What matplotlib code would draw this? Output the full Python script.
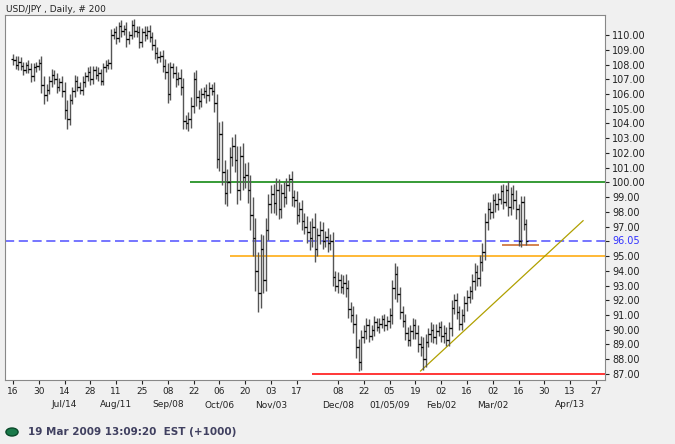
import matplotlib
matplotlib.use("Agg")
import matplotlib.pyplot as plt
from matplotlib.patches import Circle

closes = [108.3,108.0,108.2,107.9,107.6,108.0,107.7,107.2,107.8,107.9,
          108.1,106.6,105.9,106.3,106.9,107.3,107.0,106.5,106.8,106.2,
          104.9,104.3,105.6,106.2,106.9,106.5,106.3,106.8,107.2,107.5,
          107.0,107.6,107.3,107.4,106.9,107.8,108.0,108.1,110.0,110.2,
          109.8,110.6,110.3,110.4,109.7,110.0,110.7,110.3,110.2,109.5,
          110.2,110.0,110.3,109.9,109.3,108.8,108.5,108.6,107.9,107.5,
          106.0,107.8,107.4,107.0,107.1,106.5,104.2,104.0,104.3,105.2,
          107.0,105.8,105.5,106.0,106.2,105.9,106.4,106.2,105.4,101.6,
          103.3,100.7,99.3,100.0,101.7,102.5,101.5,99.5,101.8,100.4,
          100.5,99.5,97.8,96.2,94.0,92.5,95.5,93.4,96.8,98.5,
          99.2,98.6,99.5,98.2,99.3,99.0,99.8,100.2,99.0,98.8,
          97.8,98.2,97.4,97.0,96.6,96.2,97.0,95.5,96.4,96.8,
          96.0,96.3,95.9,96.0,93.6,93.0,93.4,92.9,93.2,92.8,
          91.4,91.0,90.4,88.8,87.8,89.5,89.9,90.3,89.6,90.0,
          90.5,90.2,90.4,90.7,90.3,90.6,91.0,92.8,93.8,92.4,
          91.2,90.6,89.8,89.3,89.9,90.3,89.8,89.0,88.8,88.0,
          89.2,89.7,90.0,89.5,89.9,90.2,89.6,89.8,89.3,90.1,
          91.5,92.0,91.2,90.4,91.0,91.8,92.2,92.6,93.3,93.9,
          93.5,94.6,95.3,97.3,98.2,98.0,98.8,98.5,98.9,99.4,
          98.7,99.5,98.3,99.2,98.8,98.2,96.0,98.7,97.2,96.05]
wick = [0.3,0.3,0.4,0.3,0.3,0.2,0.3,0.4,0.3,0.3,
        0.3,0.5,0.6,0.4,0.3,0.4,0.3,0.4,0.3,0.4,
        0.6,0.7,0.4,0.3,0.4,0.3,0.3,0.4,0.3,0.3,
        0.4,0.3,0.3,0.4,0.3,0.3,0.3,0.3,0.4,0.3,
        0.4,0.3,0.4,0.3,0.5,0.3,0.3,0.4,0.3,0.4,
        0.3,0.4,0.3,0.4,0.3,0.4,0.4,0.3,0.4,0.5,
        0.6,0.4,0.3,0.5,0.4,0.6,0.6,0.4,0.5,0.6,
        0.5,0.6,0.5,0.4,0.3,0.5,0.4,0.3,0.6,0.6,
        0.8,0.9,0.8,0.9,0.7,0.6,0.8,1.0,0.7,0.9,
        0.8,0.9,1.0,1.2,1.4,1.3,1.0,0.9,0.8,0.7,
        0.6,0.7,0.8,0.7,0.6,0.7,0.5,0.4,0.6,0.5,
        0.6,0.5,0.6,0.5,0.7,0.8,0.6,0.9,0.5,0.6,
        0.5,0.4,0.6,0.5,0.6,0.4,0.5,0.4,0.5,0.6,
        0.6,0.5,0.6,0.7,0.6,0.5,0.4,0.5,0.4,0.3,
        0.4,0.3,0.4,0.3,0.4,0.3,0.5,0.6,0.7,0.5,
        0.5,0.4,0.5,0.4,0.4,0.5,0.4,0.5,0.6,0.7,
        0.5,0.4,0.5,0.4,0.5,0.3,0.4,0.5,0.4,0.4,
        0.5,0.4,0.5,0.4,0.4,0.5,0.5,0.4,0.5,0.6,
        0.5,0.5,0.6,0.6,0.5,0.5,0.4,0.5,0.4,0.4,
        0.5,0.3,0.6,0.5,0.6,0.7,0.3,0.4,0.4,0.3]
first_open = 108.4

tick_pos = [0,10,20,30,40,50,60,70,80,90,100,110,126,136,146,156,166,176,186,196,206,216,226]
tick_top = ["16","30","14","28","11","25","08","22","06","20","03","17","08","22","05","19","02","16","02","16","30","13","27"]
tick_bottom = {20:"Jul/14",40:"Aug/11",60:"Sep/08",80:"Oct/06",100:"Nov/03",126:"Dec/08",
               146:"01/05/09",166:"Feb/02",186:"Mar/02",216:"Apr/13"}

resistance = 100.0
last_close = 96.05
support = 95.0
low_line = 87.0
brown_level = 95.75
trend = ([158, 221], [87.2, 97.4])

fig = plt.figure(figsize=(6.75, 4.44), dpi=100)
fig.patch.set_facecolor("#f0f0f0")
ax = fig.add_axes([5/675, 64/444, 600/675, 365/444])
ax.set_facecolor("white")

opens = [first_open] + closes[:-1]
for i, (o, c, w) in enumerate(zip(opens, closes, wick)):
    hi = max(o, c) + w
    lo = min(o, c) - w
    ax.vlines(i, lo, hi, color="#555555", lw=1.0, zorder=3)
    ax.hlines(o, i - 0.7, i, color="black", lw=0.9, zorder=3)
    ax.hlines(c, i, i + 0.7, color="black", lw=0.9, zorder=3)

xmin, xmax = -3.1, 229.5
ax.hlines(resistance, 68.5, xmax, color="green", lw=1.1, zorder=2)
ax.axhline(last_close, color="#5050ff", lw=1.1, ls=(0, (6, 3)), zorder=2)
ax.hlines(support, 84, xmax, color="orange", lw=1.1, zorder=2)
ax.hlines(low_line, 116, xmax, color="red", lw=1.1, zorder=2)
ax.hlines(brown_level, 189.5, 204, color="#c86020", lw=1.1, zorder=2)
ax.plot(trend[0], trend[1], color="#b0a000", lw=0.9, zorder=2)

ax.set_xlim(xmin, xmax)
ax.set_ylim(86.59, 111.36)

ax.yaxis.tick_right()
yt = list(range(87, 111))
ax.set_yticks(yt)
ax.set_yticklabels(["" if v == 96 else f"{v:.2f}" for v in yt], fontsize=7)
ax.text(1.012, (last_close - 86.59) / (111.36 - 86.59), f"{last_close:.2f}", transform=ax.transAxes,
        color="#3030ff", fontsize=7, va="center", ha="left")
ax.tick_params(axis="y", length=3, pad=2, colors="#222222")

ax.set_xticks(tick_pos)
ax.set_xticklabels([t + ("\n" + tick_bottom[p] if p in tick_bottom else "") for p, t in zip(tick_pos, tick_top)],
                   fontsize=6.5, linespacing=1.6)
ax.tick_params(axis="x", length=3, pad=2, colors="#222222")
for s in ax.spines.values():
    s.set_color("#888888")

fig.text(6/675, 1 - 9/444, "USD/JPY , Daily, # 200", fontsize=6.5, va="center", ha="left", color="#222222")
fig.patches.append(Circle((12/675, 1 - 432/444), 0.009, transform=fig.transFigure, color="#1a7a4a", ec="#0a4a2a"))
fig.text(28/675, 1 - 432/444, "19 Mar 2009 13:09:20  EST (+1000)", fontsize=7.5, fontweight="bold",
         color="#404060", va="center", ha="left")

fig.savefig("out.png", dpi=100, facecolor=fig.get_facecolor())
